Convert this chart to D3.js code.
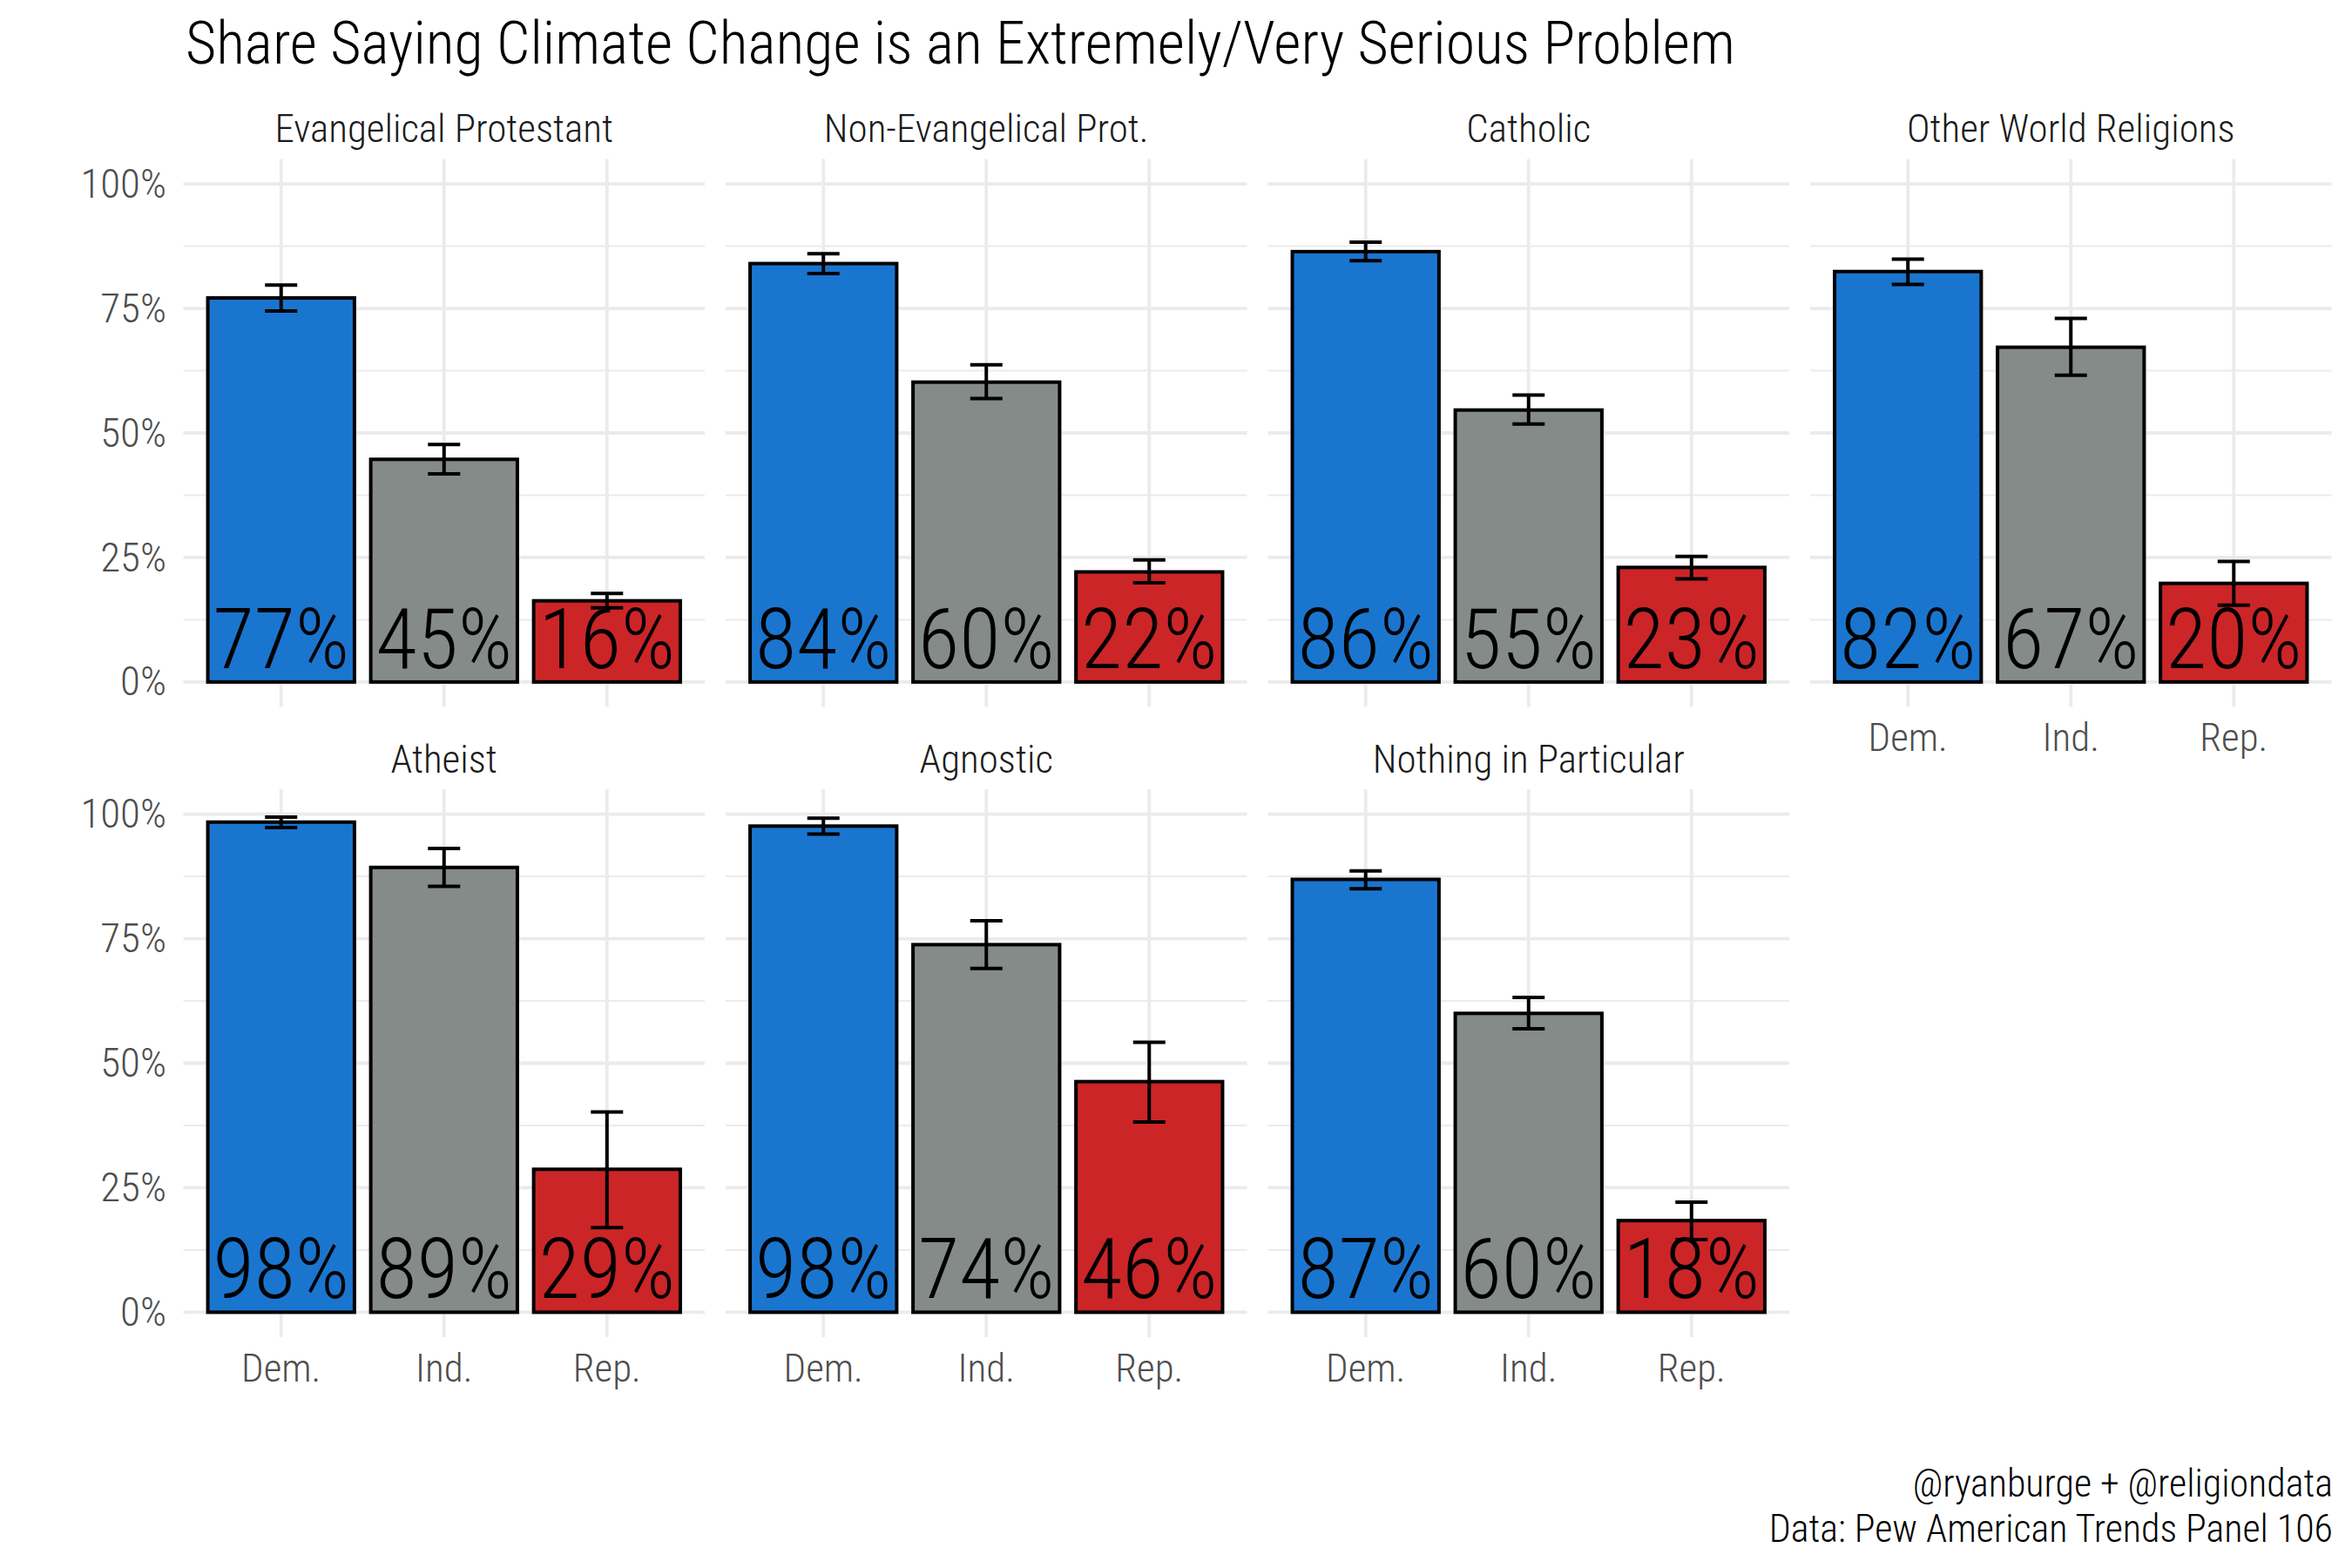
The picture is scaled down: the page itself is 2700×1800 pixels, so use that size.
<!DOCTYPE html>
<html>
<head>
<meta charset="utf-8">
<script src="https://cdn.jsdelivr.net/npm/d3@7"></script>
<style>
  body { margin: 0; background: #fff; }
  text { font-family: "Roboto Condensed", "DejaVu Sans Condensed", sans-serif; font-weight: 300; }
</style>
</head>
<body>
<div id="chart-area"></div>
<script>

// facets, parties and values
var facets = ["Evangelical Protestant", "Non-Evangelical Prot.", "Catholic", "Other World Religions",
              "Atheist", "Agnostic", "Nothing in Particular"];
var parties = ["Dem.", "Ind.", "Rep."];
var partyColors = ["#1a75cf", "#848b89", "#cb2528"];

var share = [
    [0.771, 0.447, 0.163],
    [0.840, 0.602, 0.221],
    [0.864, 0.546, 0.230],
    [0.824, 0.672, 0.198],
    [0.984, 0.893, 0.287],
    [0.976, 0.738, 0.463],
    [0.869, 0.600, 0.184]
];
var lower = [
    [0.745, 0.418, 0.149],
    [0.820, 0.569, 0.199],
    [0.846, 0.518, 0.207],
    [0.798, 0.616, 0.154],
    [0.973, 0.855, 0.170],
    [0.960, 0.690, 0.382],
    [0.850, 0.569, 0.146]
];
var upper = [
    [0.797, 0.477, 0.178],
    [0.860, 0.637, 0.245],
    [0.883, 0.576, 0.252],
    [0.849, 0.730, 0.242],
    [0.994, 0.931, 0.402],
    [0.992, 0.786, 0.542],
    [0.886, 0.632, 0.221]
];
var yTicks = [0, 0.25, 0.5, 0.75, 1];
var yMinor = [0.125, 0.375, 0.625, 0.875];

var titleText = "Share Saying Climate Change is an Extremely/Very Serious Problem";
var captionLines = ["@ryanburge + @religiondata", "Data: Pew American Trends Panel 106"];

var W = 2700, H = 1800;
var plotLeft = 210.5, plotRight = 2676.5;
var panelGap = 24;
var panelW = (plotRight - plotLeft - 3 * panelGap) / 4;
var panelH = 629;
var rowTops = [182.5, 906];

var svg = d3.select("#chart-area")
    .append("svg")
    .attr("width", W)
    .attr("height", H);

svg.append("rect")
    .attr("width", W)
    .attr("height", H)
    .attr("fill", "#fff");

// title
svg.append("text")
    .attr("x", 213)
    .attr("y", 73)
    .attr("font-size", "68px")
    .attr("fill", "#000")
    .text(titleText);

var x = d3.scaleBand()
    .domain(parties)
    .range([0, panelW])
    .paddingInner(0.1)
    .paddingOuter(0.15);

var y = d3.scaleLinear()
    .domain([-0.05, 1.05])
    .range([panelH, 0]);

facets.forEach(function(name, i) {
    var col = i % 4, row = Math.floor(i / 4);
    var g = svg.append("g")
        .attr("transform", "translate(" + (plotLeft + col * (panelW + panelGap)) + "," + rowTops[row] + ")");

    // strip label
    g.append("text")
        .attr("x", panelW / 2)
        .attr("y", -19.5)
        .attr("text-anchor", "middle")
        .attr("font-size", "45px")
        .attr("fill", "#1a1a1a")
        .text(name);

    // gridlines
    g.selectAll(".minor")
        .data(yMinor)
        .enter()
        .append("line")
        .attr("x1", 0).attr("x2", panelW)
        .attr("y1", function(d){ return y(d); })
        .attr("y2", function(d){ return y(d); })
        .attr("stroke", "#ebebeb")
        .attr("stroke-width", 2);

    g.selectAll(".major")
        .data(yTicks)
        .enter()
        .append("line")
        .attr("x1", 0).attr("x2", panelW)
        .attr("y1", function(d){ return y(d); })
        .attr("y2", function(d){ return y(d); })
        .attr("stroke", "#ebebeb")
        .attr("stroke-width", 3.8);

    g.selectAll(".vgrid")
        .data(parties)
        .enter()
        .append("line")
        .attr("x1", function(d){ return x(d) + x.bandwidth() / 2; })
        .attr("x2", function(d){ return x(d) + x.bandwidth() / 2; })
        .attr("y1", 0).attr("y2", panelH)
        .attr("stroke", "#ebebeb")
        .attr("stroke-width", 3.8);

    // y axis on first column only
    if (col === 0) {
        var yAxisCall = d3.axisLeft(y)
            .tickValues(yTicks)
            .tickSize(0)
            .tickPadding(19.5)
            .tickFormat(function(d){ return Math.round(d * 100) + "%"; });
        var ya = g.append("g").call(yAxisCall);
        ya.select(".domain").remove();
        ya.selectAll("text")
            .attr("font-size", "47px")
            .attr("fill", "#4d4d4d")
            .style("font-family", "'Roboto Condensed', sans-serif")
            .style("font-weight", 300);
    }

    // x axis for bottom panel in each column
    if (row === 1 || col === 3) {
        var xAxisCall = d3.axisBottom(x).tickSize(0).tickPadding(19);
        var xa = g.append("g")
            .attr("transform", "translate(0," + panelH + ")")
            .call(xAxisCall);
        xa.select(".domain").remove();
        xa.selectAll("text")
            .attr("font-size", "45px")
            .attr("fill", "#4d4d4d")
            .style("font-family", "'Roboto Condensed', sans-serif")
            .style("font-weight", 300);
    }

    var rows = parties.map(function(p, j) {
        return { party: p, value: share[i][j], lo: lower[i][j], hi: upper[i][j], color: partyColors[j] };
    });

    g.selectAll(".bar")
        .data(rows)
        .enter()
        .append("rect")
        .attr("class", "bar")
        .attr("x", function(d){ return x(d.party); })
        .attr("y", function(d){ return y(d.value); })
        .attr("width", x.bandwidth())
        .attr("height", function(d){ return y(0) - y(d.value); })
        .attr("fill", function(d){ return d.color; })
        .attr("stroke", "#000")
        .attr("stroke-width", 4);

    // error bars
    var capW = 37;
    var eb = g.selectAll(".err")
        .data(rows)
        .enter()
        .append("g")
        .attr("transform", function(d){ return "translate(" + (x(d.party) + x.bandwidth() / 2) + ",0)"; });
    eb.append("line")
        .attr("x1", 0).attr("x2", 0)
        .attr("y1", function(d){ return y(d.lo); })
        .attr("y2", function(d){ return y(d.hi); })
        .attr("stroke", "#000").attr("stroke-width", 4);
    eb.append("line")
        .attr("x1", -capW / 2).attr("x2", capW / 2)
        .attr("y1", function(d){ return y(d.lo); })
        .attr("y2", function(d){ return y(d.lo); })
        .attr("stroke", "#000").attr("stroke-width", 4);
    eb.append("line")
        .attr("x1", -capW / 2).attr("x2", capW / 2)
        .attr("y1", function(d){ return y(d.hi); })
        .attr("y2", function(d){ return y(d.hi); })
        .attr("stroke", "#000").attr("stroke-width", 4);

    // value labels
    g.selectAll(".lab")
        .data(rows)
        .enter()
        .append("text")
        .attr("x", function(d){ return x(d.party) + x.bandwidth() / 2; })
        .attr("y", y(0) - 16)
        .attr("text-anchor", "middle")
        .attr("font-size", "97px")
        .attr("fill", "#000")
        .text(function(d){ return Math.round(d.value * 100) + "%"; });
});

// caption
svg.selectAll(".cap")
    .data(captionLines)
    .enter()
    .append("text")
    .attr("x", 2678)
    .attr("y", function(d, i){ return 1718 + i * 52; })
    .attr("text-anchor", "end")
    .attr("font-size", "44px")
    .attr("fill", "#000")
    .text(function(d){ return d; });

</script>
</body>
</html>
